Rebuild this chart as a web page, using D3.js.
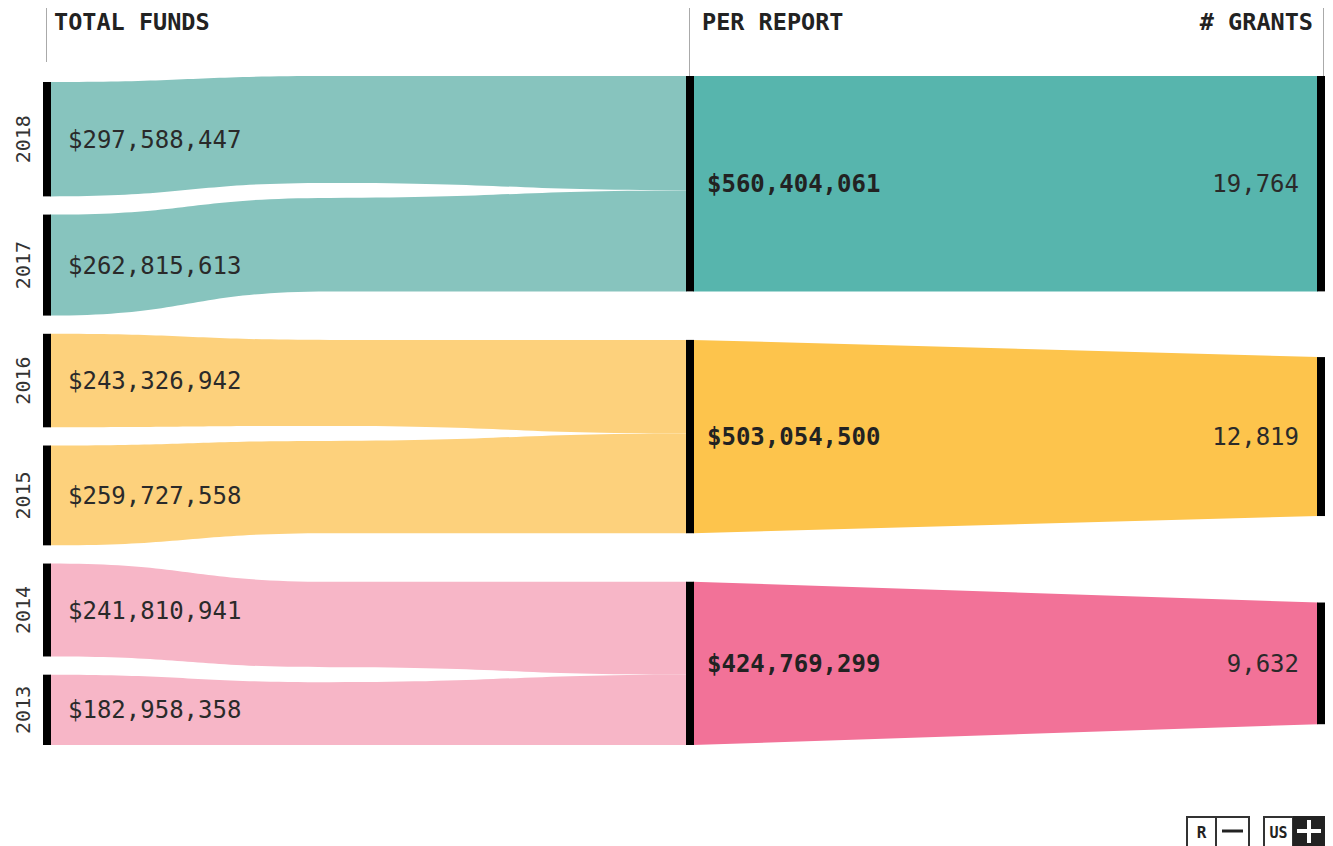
<!DOCTYPE html>
<html><head><meta charset="utf-8">
<script src="https://cdn.jsdelivr.net/npm/d3@7"></script>
<style>
body{margin:0;background:#fff;}
svg{display:block;}
text{font-family:"DejaVu Sans Mono","Liberation Mono",monospace;}
</style></head><body>
<svg id="chart" width="1333" height="846"></svg>
<script>
// ---- data ----
const years = ["2018","2017","2016","2015","2014","2013"];
const totalFunds = [297588447, 262815613, 243326942, 259727558, 241810941, 182958358];
const groupOfYear = [0,0,1,1,2,2];
const groups = ["2017-2018","2015-2016","2013-2014"];
const perReport = [560404061, 503054500, 424769299];
const grants = [19764, 12819, 9632];
const headers = ["TOTAL FUNDS","PER REPORT","# GRANTS"];
const linkColors = ["#87c4be","#fdd17c","#f7b6c7"];
const nodeColors = ["#57b5ad","#fdc44c","#f27298"];

// ---- layout ----
const svg = d3.select("#chart");
const barW = 8;
const xLeft = 43, xMid = 686, xRight = 1317, xBend = 330;
const colTop = 76, colBottom = 745, leftTop = 82, gapMid = 48.5;
const usable = colBottom - colTop - 2*gapMid;
const h = d3.scaleLinear().domain([0, d3.sum(perReport)]).range([0, usable]);

// middle nodes
let y = colTop;
const midNodes = perReport.map((v,i)=>{ const n={i,v,y0:y,y1:y+h(v)}; y = n.y1 + gapMid; return n; });
// left nodes
const padLeft = (colBottom - leftTop - h(d3.sum(totalFunds))) / (years.length-1);
y = leftTop;
const leftNodes = totalFunds.map((v,i)=>{ const n={i,v,y0:y,y1:y+h(v),g:groupOfYear[i]}; y = n.y1 + padLeft; return n; });
// right nodes
const hMax = h(d3.max(perReport));
const gh = d3.scaleLog().domain(d3.extent(grants)).range([hMax*0.565, hMax]);
const rightNodes = grants.map((v,i)=>{ const c=(midNodes[i].y0+midNodes[i].y1)/2, hh=gh(v); return {i,v,y0:c-hh/2,y1:c+hh/2}; });

// links left -> middle
const offs = [0,0,0];
const inset = 7.5;
const links = leftNodes.map(n=>{
  const m = midNodes[n.g];
  const t0 = m.y0 + offs[n.g]; const t1 = t0 + h(n.v); offs[n.g] += h(n.v);
  const first = Math.abs(t0 - m.y0) < 0.5, last = Math.abs(t1 - m.y1) < 0.5;
  return {g:n.g, pts:[
    {x:xLeft+barW-1, y0:n.y0, y1:n.y1},
    {x:xBend, y0:t0 + (first?0:inset), y1:t1 - (last?0:inset)},
    {x:xMid+1, y0:t0, y1:t1}
  ]};
});
const area = d3.area().x(d=>d.x).y0(d=>d.y0).y1(d=>d.y1).curve(d3.curveBumpX);
svg.append("g").selectAll("path").data(links).join("path")
  .attr("d", d=>area(d.pts)).attr("fill", d=>linkColors[d.g]);

// trapezoids middle -> right
svg.append("g").selectAll("path").data(midNodes).join("path")
  .attr("d", (m,i)=>{ const r=rightNodes[i]; return `M${xMid+barW-1},${m.y0}L${xRight+1},${r.y0}L${xRight+1},${r.y1}L${xMid+barW-1},${m.y1}Z`; })
  .attr("fill", (m,i)=>nodeColors[i]);

// header lines
const hl = [[46.5,8,62],[689.5,8,76],[1323.5,8,100]];
svg.append("g").selectAll("line").data(hl).join("line")
  .attr("x1",d=>d[0]).attr("x2",d=>d[0]).attr("y1",d=>d[1]).attr("y2",d=>d[2])
  .attr("stroke","#aaa").attr("stroke-width",1);

// black bars
const bars = svg.append("g").attr("fill","#000");
bars.selectAll(".l").data(leftNodes).join("rect").attr("class","l")
  .attr("x",xLeft).attr("width",barW).attr("y",d=>d.y0).attr("height",d=>d.y1-d.y0);
bars.selectAll(".m").data(midNodes).join("rect").attr("class","m")
  .attr("x",xMid).attr("width",barW).attr("y",d=>d.y0).attr("height",d=>d.y1-d.y0);
bars.selectAll(".r").data(rightNodes).join("rect").attr("class","r")
  .attr("x",xRight).attr("width",barW).attr("y",d=>d.y0).attr("height",d=>d.y1-d.y0);

// headers
const hx = [[54,"start"],[702,"start"],[1313,"end"]];
svg.append("g").selectAll("text").data(headers).join("text")
  .attr("x",(d,i)=>hx[i][0]).attr("y",30).attr("text-anchor",(d,i)=>hx[i][1])
  .attr("font-size",23.5).attr("font-weight","bold").attr("fill","#222").text(d=>d);

const money = v => "$" + d3.format(",")(v);
// left labels
svg.append("g").selectAll("text").data(leftNodes).join("text")
  .attr("x",68).attr("y",d=>(d.y0+d.y1)/2).attr("dy","0.36em")
  .attr("font-size",24).attr("fill","#2a2a2a").text(d=>money(d.v));
// year labels
svg.append("g").selectAll("text").data(leftNodes).join("text")
  .attr("transform",d=>`translate(23,${(d.y0+d.y1)/2}) rotate(-90)`).attr("dy","0.36em")
  .attr("text-anchor","middle").attr("font-size",20).attr("fill","#333").text((d,i)=>years[i]);
// middle labels
svg.append("g").selectAll("text").data(midNodes).join("text")
  .attr("x",707).attr("y",d=>(d.y0+d.y1)/2).attr("dy","0.36em")
  .attr("font-size",24).attr("font-weight","bold").attr("fill","#222").text(d=>money(d.v));
// grants labels
svg.append("g").selectAll("text").data(rightNodes).join("text")
  .attr("x",1299).attr("y",d=>(d.y0+d.y1)/2).attr("dy","0.36em").attr("text-anchor","end")
  .attr("font-size",24).attr("fill","#2a2a2a").text(d=>d3.format(",")(d.v));

// buttons
const b = svg.append("g");
b.append("rect").attr("x",1187).attr("y",817).attr("width",29).attr("height",34).attr("fill","#fff").attr("stroke","#333").attr("stroke-width",2);
b.append("rect").attr("x",1216).attr("y",817).attr("width",33).attr("height",34).attr("fill","#fff").attr("stroke","#333").attr("stroke-width",2);
b.append("text").attr("x",1201.5).attr("y",838).attr("text-anchor","middle").attr("font-size",16).attr("font-weight","bold").attr("fill","#222").attr("font-family","Roboto, sans-serif").text("R");
b.append("line").attr("x1",1222).attr("x2",1243).attr("y1",831).attr("y2",831).attr("stroke","#222").attr("stroke-width",3);
b.append("rect").attr("x",1264).attr("y",817).attr("width",29).attr("height",34).attr("fill","#fff").attr("stroke","#333").attr("stroke-width",2);
b.append("rect").attr("x",1293).attr("y",816).attr("width",32).attr("height",36).attr("fill","#222");
b.append("text").attr("x",1278.5).attr("y",838).attr("text-anchor","middle").attr("font-size",15).attr("font-weight","bold").attr("fill","#222").attr("font-family","Roboto, sans-serif").text("US");
b.append("line").attr("x1",1297).attr("x2",1321).attr("y1",831).attr("y2",831).attr("stroke","#fff").attr("stroke-width",4);
b.append("line").attr("x1",1309).attr("x2",1309).attr("y1",820).attr("y2",843).attr("stroke","#fff").attr("stroke-width",4);
</script>
</body></html>
